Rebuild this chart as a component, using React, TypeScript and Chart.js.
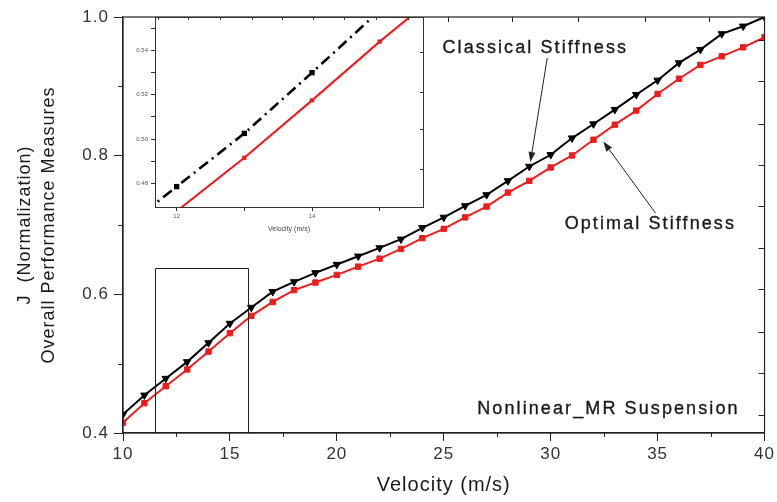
import React, { useEffect, useRef } from "react";
import { Chart, registerables } from "chart.js";
Chart.register(...registerables);

// ---------- data ----------
const velocity = [10, 11, 12, 13, 14, 15, 16, 17, 18, 19, 20, 21, 22, 23, 24, 25, 26, 27, 28, 29, 30, 31, 32, 33, 34, 35, 36, 37, 38, 39, 40];
const classicalJ = [0.427, 0.4545, 0.4786, 0.5026, 0.53, 0.558, 0.581, 0.6038, 0.618, 0.631, 0.643, 0.655, 0.667, 0.6795, 0.696, 0.711, 0.7276, 0.7435, 0.7637, 0.7844, 0.8013, 0.8254, 0.8457, 0.8665, 0.888, 0.9087, 0.9338, 0.953, 0.9757, 0.9867, 1.0];
const optimalJ = [0.415, 0.443, 0.4675, 0.4916, 0.5175, 0.544, 0.569, 0.589, 0.606, 0.617, 0.628, 0.64, 0.6515, 0.6655, 0.681, 0.6944, 0.711, 0.7266, 0.7468, 0.7637, 0.783, 0.8003, 0.823, 0.8447, 0.865, 0.889, 0.911, 0.931, 0.9433, 0.9563, 0.9708];
const seriesNames = ["Classical Stiffness", "Optimal Stiffness"];

const xMajorTicks = [10, 15, 20, 25, 30, 35, 40];
const xMinorTicks = [12.5, 17.5, 22.5, 27.5, 32.5, 37.5];
const yMajorTicks = [0.4, 0.6, 0.8, 1.0];
const yMinorTicks = [0.5, 0.7, 0.9];
const topAxisTicks = [25.2, 28.2, 31.3, 34.4, 37.4];
const rightAxisTicks = [0.967, 0.907, 0.846, 0.787, 0.727, 0.667, 0.607, 0.546, 0.486, 0.426];

const zoomBoxX = [11.5, 15.86];
const zoomBoxY = [0.4, 0.6376];

const insetXRange = [11.68, 15.64];
const insetYRange = [0.4694, 0.5551];
const insetXTicks = [12, 13, 14, 15];
const insetYTicks = [0.48, 0.49, 0.5, 0.51, 0.52, 0.53, 0.54, 0.55];
const insetTopTicks = [11.73, 12.17, 12.64, 13.11, 13.55, 14.01, 14.48, 14.95, 15.42];
const insetRightTicks = [0.5393, 0.5212, 0.5046, 0.4865];

const annotationTexts = ["Classical Stiffness", "Optimal Stiffness", "Nonlinear_MR Suspension"];

const FONT = 'Arial, "Liberation Sans", sans-serif';
const TEXT = "#1a1a1a";

function arrow(ctx: CanvasRenderingContext2D, x0: number, y0: number, x1: number, y1: number) {
  ctx.save();
  ctx.strokeStyle = "#222";
  ctx.fillStyle = "#222";
  ctx.lineWidth = 1;
  const ang = Math.atan2(y1 - y0, x1 - x0);
  const hl = 10, hw = 3.5;
  const bx = x1 - hl * Math.cos(ang), by = y1 - hl * Math.sin(ang);
  ctx.beginPath();
  ctx.moveTo(x0, y0);
  ctx.lineTo(bx, by);
  ctx.stroke();
  ctx.beginPath();
  ctx.moveTo(x1, y1);
  ctx.lineTo(bx + hw * Math.sin(ang), by - hw * Math.cos(ang));
  ctx.lineTo(bx - hw * Math.sin(ang), by + hw * Math.cos(ang));
  ctx.closePath();
  ctx.fill();
  ctx.restore();
}

const spacingPlugin = (sp: string) => ({
  id: "spacing",
  beforeDraw(chart: any) {
    (chart.ctx as any).letterSpacing = sp;
  },
});

const mainDecor = {
  id: "mainDecor",
  afterDraw(chart: any) {
    const { ctx, chartArea: a, scales } = chart;
    const xs = scales.x, ys = scales.y;
    ctx.save();
    ctx.strokeStyle = "#222";
    ctx.lineWidth = 1.2;
    ctx.strokeRect(a.left, a.top, a.right - a.left, a.bottom - a.top);
    ctx.lineWidth = 1;
    ctx.beginPath();
    xMinorTicks.forEach((v) => {
      const px = Math.round(xs.getPixelForValue(v)) + 0.5;
      ctx.moveTo(px, a.bottom);
      ctx.lineTo(px, a.bottom + 4);
    });
    yMinorTicks.forEach((v) => {
      const py = Math.round(ys.getPixelForValue(v)) + 0.5;
      ctx.moveTo(a.left, py);
      ctx.lineTo(a.left - 5, py);
    });
    topAxisTicks.forEach((v) => {
      const px = Math.round(xs.getPixelForValue(v)) + 0.5;
      ctx.moveTo(px, a.top);
      ctx.lineTo(px, a.top + 5);
    });
    rightAxisTicks.forEach((v) => {
      const py = Math.round(ys.getPixelForValue(v)) + 0.5;
      ctx.moveTo(a.right, py);
      ctx.lineTo(a.right - 6, py);
    });
    ctx.stroke();

    // zoom box
    const bx0 = Math.round(xs.getPixelForValue(zoomBoxX[0])) + 0.5;
    const bx1 = Math.round(xs.getPixelForValue(zoomBoxX[1])) + 0.5;
    const by0 = Math.round(ys.getPixelForValue(zoomBoxY[0])) + 0.5;
    const by1 = Math.round(ys.getPixelForValue(zoomBoxY[1])) + 0.5;
    ctx.beginPath();
    ctx.moveTo(bx0, by0);
    ctx.lineTo(bx0, by1);
    ctx.lineTo(bx1, by1);
    ctx.lineTo(bx1, by0);
    ctx.stroke();

    // annotations
    ctx.fillStyle = TEXT;
    ctx.strokeStyle = TEXT;
    ctx.lineWidth = 0.35;
    ctx.font = `18px ${FONT}`;
    (ctx as any).letterSpacing = "2.1px";
    ctx.textAlign = "center";
    ctx.textBaseline = "middle";
    const pos = [
      [29.28, 0.9553],
      [34.66, 0.7014],
      [32.7, 0.4346],
    ];
    annotationTexts.forEach((t, i) => {
      const px = xs.getPixelForValue(pos[i][0]);
      const py = ys.getPixelForValue(pos[i][1]);
      ctx.fillText(t, px, py);
      ctx.strokeText(t, px, py);
    });
    arrow(ctx, xs.getPixelForValue(29.84), ys.getPixelForValue(0.941), xs.getPixelForValue(29.05), ys.getPixelForValue(0.7908));
    arrow(ctx, xs.getPixelForValue(34.9), ys.getPixelForValue(0.7173), xs.getPixelForValue(32.46), ys.getPixelForValue(0.8204));
    ctx.restore();
  },
};

const insetDecor = {
  id: "insetDecor",
  beforeDatasetsDraw(chart: any) {
    const { ctx, chartArea: a } = chart;
    ctx.save();
    ctx.fillStyle = "#fff";
    ctx.fillRect(a.left, a.top, a.right - a.left, a.bottom - a.top);
    ctx.restore();
  },
  afterDraw(chart: any) {
    const { ctx, chartArea: a, scales } = chart;
    const xs = scales.x, ys = scales.y;
    ctx.save();
    ctx.strokeStyle = "#333";
    ctx.lineWidth = 1;
    ctx.strokeRect(a.left + 0.5, a.top + 0.5, a.right - a.left, a.bottom - a.top);
    ctx.beginPath();
    insetTopTicks.forEach((v) => {
      const px = Math.round(xs.getPixelForValue(v)) + 0.5;
      ctx.moveTo(px, a.top);
      ctx.lineTo(px, a.top + 3);
    });
    insetRightTicks.forEach((v) => {
      const py = Math.round(ys.getPixelForValue(v)) + 0.5;
      ctx.moveTo(a.right, py);
      ctx.lineTo(a.right - 3, py);
    });
    ctx.stroke();
    ctx.restore();
  },
};

export default function App() {
  const mainRef = useRef<HTMLCanvasElement>(null);
  const insetRef = useRef<HTMLCanvasElement>(null);

  useEffect(() => {
    const classicalPts = velocity.map((v, i) => ({ x: v, y: classicalJ[i] }));
    const optimalPts = velocity.map((v, i) => ({ x: v, y: optimalJ[i] }));

    const main = new Chart(mainRef.current!, {
      type: "line",
      data: {
        datasets: [
          {
            label: seriesNames[0],
            data: classicalPts,
            borderColor: "#000",
            backgroundColor: "#000",
            borderWidth: 2,
            pointStyle: "triangle",
            pointRotation: 180,
            pointRadius: 4.3,
            pointBorderWidth: 1,
            tension: 0,
          },
          {
            label: seriesNames[1],
            data: optimalPts,
            borderColor: "#ee1c1c",
            backgroundColor: "#ee1c1c",
            borderWidth: 2,
            pointStyle: "rect",
            pointRadius: 3.8,
            pointBorderWidth: 1,
            tension: 0,
          },
        ],
      },
      options: {
        responsive: false,
        animation: false,
        events: [],
        layout: { padding: { left: 0, right: 12, top: 17, bottom: 0 } },
        plugins: { legend: { display: false }, tooltip: { enabled: false } },
        scales: {
          x: {
            type: "linear",
            min: 10,
            max: 40,
            afterBuildTicks: (s: any) => {
              s.ticks = xMajorTicks.map((value) => ({ value }));
            },
            afterFit: (s: any) => {
              s.height = 69;
            },
            grid: { drawOnChartArea: false, tickLength: 8, color: "#222", lineWidth: 1 },
            border: { color: "#222", width: 1.2 },
            ticks: {
              font: { family: FONT, size: 17 },
              color: "#333",
              padding: 3,
              maxRotation: 0,
              callback: (v: any) => String(v),
            },
            title: {
              display: true,
              text: "Velocity (m/s)",
              font: { family: FONT, size: 20 },
              color: TEXT,
              padding: { top: 0, bottom: 5 },
            },
          },
          y: {
            type: "linear",
            min: 0.4,
            max: 1.0,
            afterBuildTicks: (s: any) => {
              s.ticks = yMajorTicks.map((value) => ({ value }));
            },
            afterFit: (s: any) => {
              s.width = 123;
            },
            grid: { drawOnChartArea: false, tickLength: 9, color: "#222", lineWidth: 1 },
            border: { color: "#222", width: 1.2 },
            ticks: {
              font: { family: FONT, size: 17 },
              color: "#333",
              padding: 5,
              callback: (v: any) => Number(v).toFixed(1),
            },
            title: {
              display: true,
              text: ["J  (Normalization)", "Overall Performance Measures"],
              font: { family: FONT, size: 18, lineHeight: 1.35 },
              color: TEXT,
              padding: { top: 13, bottom: 0 },
            },
          },
        },
      },
      plugins: [spacingPlugin("1px"), mainDecor],
    });

    const inset = new Chart(insetRef.current!, {
      type: "line",
      data: {
        datasets: [
          {
            label: seriesNames[0],
            data: classicalPts,
            borderColor: "#000",
            backgroundColor: "#000",
            borderWidth: 2.6,
            borderDash: [11, 5, 2, 5],
            pointStyle: "rect",
            pointRadius: 3.8,
            pointBorderWidth: 0,
            tension: 0,
          },
          {
            label: seriesNames[1],
            data: optimalPts,
            borderColor: "#ee1c1c",
            backgroundColor: "#ee1c1c",
            borderWidth: 2.1,
            pointStyle: "rect",
            pointRadius: 3,
            pointBorderWidth: 0,
            tension: 0,
          },
        ],
      },
      options: {
        responsive: false,
        animation: false,
        events: [],
        layout: { padding: { left: 0, right: 17, top: 17, bottom: 0 } },
        plugins: { legend: { display: false }, tooltip: { enabled: false } },
        scales: {
          x: {
            type: "linear",
            min: insetXRange[0],
            max: insetXRange[1],
            afterBuildTicks: (s: any) => {
              s.ticks = insetXTicks.map((value) => ({ value }));
            },
            afterFit: (s: any) => {
              s.height = 38;
            },
            grid: { drawOnChartArea: false, tickLength: 4, color: "#333" },
            border: { color: "#333", width: 1 },
            ticks: {
              font: { family: FONT, size: 6 },
              color: "#555",
              padding: 2,
              maxRotation: 0,
              callback: (v: any) => (Math.round(v) % 2 === 0 ? String(v) : ""),
            },
            title: {
              display: true,
              text: "Velocity (m/s)",
              font: { family: FONT, size: 7 },
              color: "#444",
              padding: { top: 0, bottom: 12 },
            },
          },
          y: {
            type: "linear",
            min: insetYRange[0],
            max: insetYRange[1],
            afterBuildTicks: (s: any) => {
              s.ticks = insetYTicks.map((value) => ({ value }));
            },
            afterFit: (s: any) => {
              s.width = 45;
            },
            grid: { drawOnChartArea: false, tickLength: 4, color: "#333" },
            border: { color: "#333", width: 1 },
            ticks: {
              font: { family: FONT, size: 6 },
              color: "#555",
              padding: 3,
              callback: (v: any) => (Math.round(Number(v) * 100) % 2 === 0 ? Number(v).toFixed(2) : ""),
            },
          },
        },
      },
      plugins: [insetDecor],
    });

    return () => {
      main.destroy();
      inset.destroy();
    };
  }, []);

  return (
    <div style={{ position: "absolute", left: 0, top: 0, width: 777, height: 502, background: "#fff" }}>
      <canvas ref={mainRef} width={777} height={502} style={{ position: "absolute", left: 0, top: 0, display: "block" }} />
      <canvas ref={insetRef} width={330} height={245} style={{ position: "absolute", left: 110, top: 0, display: "block" }} />
    </div>
  );
}
